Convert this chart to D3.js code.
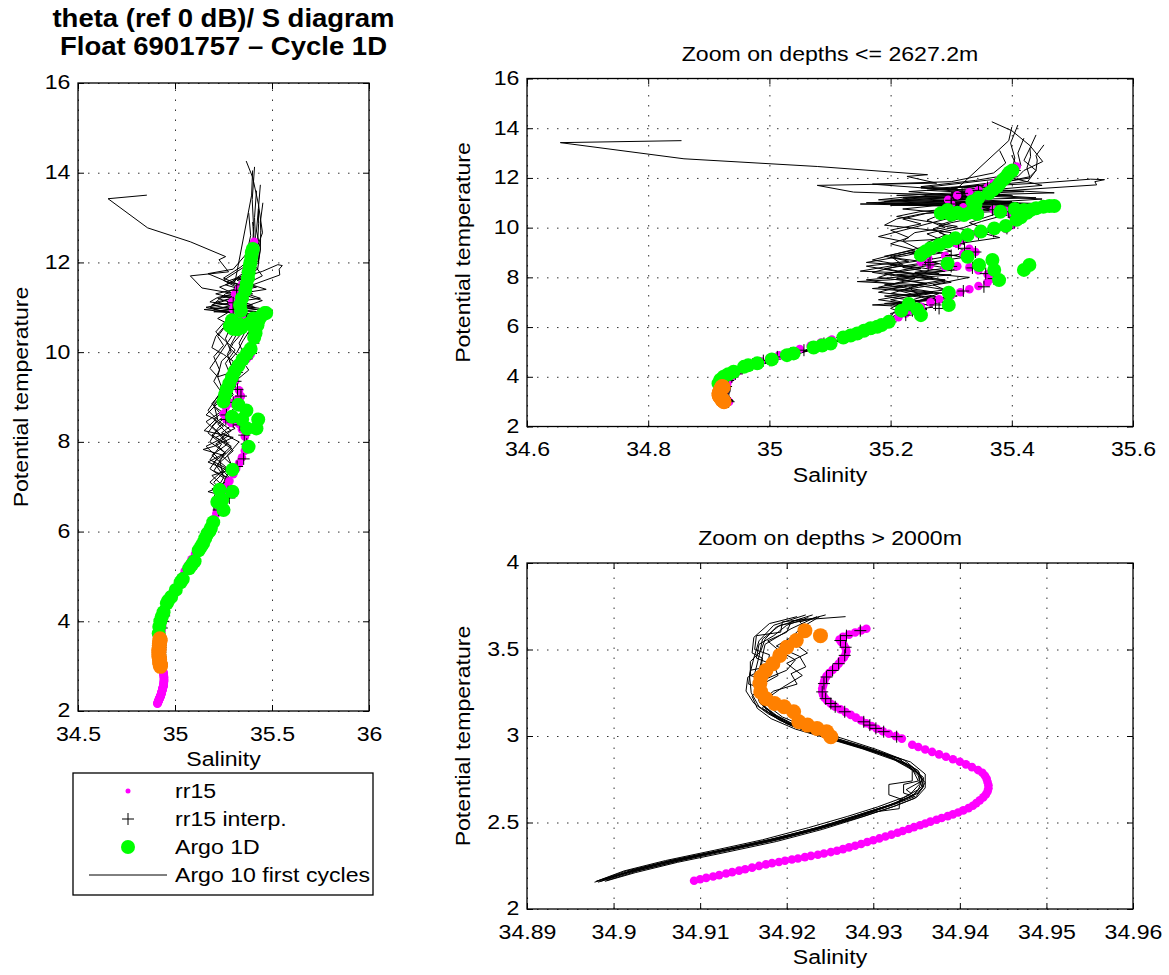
<!DOCTYPE html>
<html>
<head>
<meta charset="utf-8">
<title>theta / S diagram</title>
<script src="https://cdn.jsdelivr.net/npm/d3@7/dist/d3.min.js"></script>
<style>
  body { margin: 0; background: #fff; }
  svg text { font-family: "Liberation Sans", Arial, Helvetica, sans-serif; fill: #000; }
</style>
</head>
<body>
<svg id="chart" width="1169" height="975"></svg>
<script>
// every point is [salinity, potential temperature]

// rr15 reference profile, deep part (bottom up)
var rr15Deep = [
  [34.9093,2.163],[34.9100,2.172],[34.9107,2.180],[34.9115,2.188],[34.9122,2.196],[34.9130,2.205],[34.9137,2.213],
  [34.9145,2.222],[34.9152,2.230],[34.9160,2.239],[34.9168,2.249],[34.9176,2.258],[34.9183,2.265],[34.9191,2.272],
  [34.9198,2.279],[34.9206,2.286],[34.9213,2.292],[34.9221,2.300],[34.9228,2.307],[34.9236,2.314],[34.9243,2.321],
  [34.9251,2.329],[34.9258,2.337],[34.9265,2.346],[34.9272,2.356],[34.9279,2.366],[34.9286,2.376],[34.9293,2.387],
  [34.9300,2.397],[34.9307,2.408],[34.9314,2.419],[34.9321,2.430],[34.9328,2.441],[34.9334,2.451],[34.9341,2.462],
  [34.9347,2.473],[34.9354,2.484],[34.9360,2.494],[34.9366,2.505],[34.9373,2.516],[34.9379,2.526],[34.9386,2.537],
  [34.9392,2.547],[34.9398,2.558],[34.9404,2.570],[34.9410,2.583],[34.9415,2.597],[34.9419,2.612],[34.9423,2.628],
  [34.9427,2.645],[34.9430,2.662],[34.9432,2.680],[34.9433,2.698],[34.9433,2.716],[34.9432,2.734],[34.9431,2.752],
  [34.9429,2.770],[34.9426,2.788],[34.9421,2.803],[34.9414,2.820],[34.9407,2.836],[34.9400,2.851],[34.9392,2.866],
  [34.9384,2.880],[34.9376,2.894],[34.9368,2.908],[34.9360,2.922],[34.9352,2.936],[34.9345,2.949],
  [34.9333,2.985],[34.9326,2.999],[34.9318,3.013],[34.9311,3.027],[34.9304,3.042],[34.9298,3.058],[34.9292,3.074],
  [34.9286,3.090],[34.9280,3.106],[34.9274,3.122],[34.9268,3.138],[34.9262,3.154],[34.9256,3.170],[34.9251,3.186],
  [34.9247,3.203],[34.9244,3.220],[34.9242,3.238],[34.9241,3.256],[34.9241,3.274],[34.9242,3.292],[34.9243,3.310],
  [34.9244,3.328],[34.9246,3.346],[34.9249,3.364],[34.9253,3.382],[34.9257,3.400],[34.9260,3.418],[34.9263,3.436],
  [34.9266,3.454],[34.9268,3.472],[34.9269,3.490],[34.9268,3.508],[34.9266,3.526],[34.9263,3.543],[34.9261,3.558],
  [34.9265,3.573],[34.9272,3.586],[34.9279,3.598],[34.9286,3.610],[34.9292,3.620]
];

// rr15 reference profile, upper part
var rr15Upper = [
  [34.9298,3.64],[34.930,3.70],[34.931,3.80],[34.934,3.90],[34.938,4.00],[34.944,4.12],[34.951,4.25],[34.960,4.38],
  [34.972,4.50],[34.986,4.62],[35.000,4.74],[35.016,4.86],[35.033,4.98],[35.050,5.12],[35.068,5.25],[35.085,5.38],
  [35.103,5.50],[35.120,5.63],[35.138,5.76],[35.155,5.89],[35.171,6.02],[35.186,6.15],[35.200,6.28],[35.213,6.40],
  [35.225,6.55],[35.236,6.68],[35.250,6.82],[35.266,7.00],[35.280,7.12],[35.300,7.28],[35.315,7.40],[35.330,7.52],
  [35.345,7.65],[35.360,7.80],[35.370,7.95],[35.360,8.12],[35.345,8.28],[35.330,8.40],[35.310,8.45],[35.290,8.42],
  [35.265,8.50],[35.250,8.62],[35.262,8.78],[35.290,8.86],[35.320,8.95],[35.340,9.02],[35.330,9.15],[35.310,9.35],
  [35.320,9.55],[35.345,9.75],[35.370,9.85],[35.390,9.95],[35.400,10.10],[35.405,10.30],[35.400,10.50],[35.390,10.68],
  [35.370,10.72],[35.345,10.75],[35.320,10.82],[35.300,10.95],[35.295,11.12],[35.310,11.30],[35.330,11.42],
  [35.345,11.50],[35.360,11.62],[35.370,11.78],[35.378,11.92],[35.388,12.05],[35.396,12.20],[35.403,12.35],[35.408,12.46]
];

// rr15 interpolated on the Argo levels
var rr15InterpDeep = [
  [34.9285,3.609],[34.9269,3.580],[34.9262,3.552],[34.9268,3.513],[34.9267,3.466],[34.9260,3.418],[34.9253,3.379],
  [34.9246,3.341],[34.9243,3.303],[34.9241,3.255],[34.9245,3.216],[34.9251,3.188],[34.9256,3.169],[34.9267,3.140],
  [34.9289,3.082],[34.9296,3.063],[34.9303,3.044],[34.9312,3.025],[34.9327,2.996]
];
var rr15InterpUpper = [
  [35.405,12.30],[35.397,12.19],[35.389,12.00],[35.374,11.78],[35.360,11.62],[35.345,11.50],[35.318,11.38],
  [35.300,11.10],[35.300,10.95],[35.368,10.72],[35.395,10.64],[35.403,10.42],[35.404,10.20],[35.392,9.97],
  [35.370,9.85],[35.345,9.75],[35.320,9.55],[35.312,9.35],[35.322,9.17],[35.340,9.02],[35.300,8.88],[35.265,8.60],
  [35.262,8.50],[35.300,8.44],[35.335,8.38],[35.357,8.15],[35.370,7.95],[35.354,7.62],[35.320,7.45],[35.274,6.89],
  [35.280,6.75],[35.236,6.66],[35.225,6.48],[35.200,6.21],[35.186,6.08],[35.170,5.95],[35.145,5.74],[35.120,5.58],
  [35.090,5.34],[35.057,5.07],[35.035,4.94],[35.013,4.80],[34.990,4.65],[34.972,4.50],[34.955,4.33],[34.944,4.12],
  [34.938,4.00],[34.932,3.85]
];

// Argo cycle 1D
var argo1D = [
  [35.401,12.30],[35.396,12.22],[35.393,12.12],[35.389,12.00],[35.385,11.92],[35.380,11.78],[35.376,11.65],
  [35.369,11.52],[35.362,11.38],[35.345,11.20],[35.335,11.05],[35.340,10.92],
  [35.283,10.58],[35.294,10.71],[35.300,10.52],[35.310,10.60],[35.321,10.51],[35.332,10.62],[35.343,10.55],
  [35.381,10.64],
  [35.405,10.75],[35.412,10.51],[35.408,10.32],[35.415,10.42],[35.420,10.71],[35.425,10.60],[35.431,10.71],
  [35.440,10.78],[35.452,10.84],[35.462,10.87],[35.470,10.87],
  [35.390,10.07],[35.371,9.97],[35.349,9.84],[35.327,9.70],[35.307,9.57],[35.294,9.44],[35.280,9.30],
  [35.266,9.17],[35.258,9.05],[35.250,8.90],
  [35.327,8.83],[35.294,8.56],[35.346,8.50],[35.368,8.70],[35.371,8.30],[35.420,8.30],[35.429,8.50],[35.379,7.89],
  [35.296,7.38],[35.296,6.89],[35.230,6.93],[35.244,6.71],[35.218,6.66],[35.250,6.48],
  [35.197,6.21],[35.185,6.08],[35.178,6.01],[35.167,5.95],[35.156,5.85],[35.145,5.74],[35.134,5.66],[35.122,5.58],
  [35.101,5.34],[35.087,5.26],[35.073,5.18],[35.040,4.94],[35.029,4.87],[35.004,4.70],[34.980,4.54],[34.965,4.46],
  [34.958,4.40],[34.941,4.20],[34.932,4.10],[34.9245,4.00],[34.919,3.88],[34.916,3.73]
];
// Argo cycle 1D, levels deeper than 2000 m
var argo1DDeep = [
  [34.9221,3.609],[34.9239,3.580],[34.9211,3.552],[34.9200,3.513],[34.9192,3.466],[34.9184,3.418],[34.9176,3.379],
  [34.9170,3.341],[34.9169,3.303],[34.9170,3.255],[34.9176,3.216],[34.9186,3.188],[34.9197,3.169],[34.9208,3.140],
  [34.9214,3.082],[34.9224,3.063],[34.9235,3.044],[34.9246,3.025],[34.9251,2.996]
];

// Argo 10 first cycles
var cycle1 = [
  [34.855,13.50],[34.655,13.42],[34.859,12.77],[35.079,12.46],[35.261,12.13],[35.227,12.06],[35.276,11.79],
  [35.079,11.70],[35.139,11.43],[35.310,11.30],[35.220,11.22],[35.180,11.12],[35.300,11.05],[35.200,10.95],
  [35.350,10.86],[35.250,10.55],[35.210,10.35],[35.190,10.10],[35.250,9.95],[35.300,9.80],[35.290,9.40],
  [35.260,9.10],[35.200,8.85],[35.220,8.50],[35.170,8.20],[35.240,7.95],[35.180,7.60],[35.270,7.40],[35.200,7.10],
  [35.250,6.85],[35.210,6.60],[35.215,6.40],
  [35.198,6.20],[35.176,6.00],[35.150,5.80],[35.128,5.60],[35.105,5.40],[35.079,5.20],[35.052,5.00],[35.025,4.80],
  [35.002,4.65],[34.983,4.50],[34.964,4.35],[34.950,4.20],[34.934,4.00],[34.925,3.80],
  [34.9222,3.70],[34.9185,3.64],[34.9168,3.55],[34.9162,3.45],[34.9157,3.35],[34.9159,3.25],[34.9168,3.17],
  [34.9192,3.09],[34.9226,3.02],[34.9262,2.97],[34.9302,2.91],[34.9338,2.84],[34.9352,2.77],[34.9356,2.71],
  [34.9344,2.65],[34.9318,2.60],[34.9282,2.54],[34.9238,2.47],[34.9185,2.40],[34.9130,2.34],[34.9070,2.28],
  [34.9020,2.22],[34.8985,2.16]
];
var cycle2 = [
  [35.410,14.13],[35.398,13.40],[35.405,12.80],[35.400,12.30],[35.380,11.85],[35.300,11.60],[35.450,11.80],
  [35.530,11.95],[35.553,11.93],[35.537,11.85],[35.540,11.72],[35.400,11.50],[35.300,11.35],[35.450,11.15],
  [35.350,11.00],[35.480,10.92],[35.400,10.80],[35.440,10.55],[35.420,10.30],[35.400,10.00],[35.360,9.80],
  [35.300,9.55],[35.270,9.25],[35.240,8.95],[35.260,8.60],[35.190,8.35],[35.250,8.10],[35.300,7.80],[35.220,7.50],
  [35.280,7.20],[35.220,6.95],[35.240,6.70],[35.210,6.50],
  [35.203,6.20],[35.181,6.00],[35.156,5.80],[35.133,5.60],[35.110,5.40],[35.085,5.20],[35.058,5.00],[35.031,4.80],
  [35.008,4.65],[34.988,4.50],[34.969,4.35],[34.955,4.20],[34.938,4.00],[34.927,3.80],
  [34.9235,3.69],[34.9205,3.62],[34.9175,3.53],[34.9171,3.44],[34.9166,3.33],[34.9168,3.24],[34.9176,3.16],
  [34.9198,3.08],[34.9233,3.01],[34.9268,2.96],[34.9307,2.90],[34.9342,2.83],[34.9358,2.76],[34.9357,2.70],
  [34.9348,2.64],[34.9322,2.59],[34.9286,2.53],[34.9241,2.46],[34.9188,2.39],[34.9132,2.33],[34.9074,2.27],
  [34.9025,2.21],[34.8990,2.16]
];
var cycle3 = [
  [35.367,14.26],[35.400,13.90],[35.430,13.30],[35.451,12.66],[35.420,12.30],[35.410,12.05],[35.250,11.60],
  [35.380,11.30],[35.200,11.10],[35.420,10.95],[35.300,10.90],[35.460,10.75],[35.350,10.62],[35.300,10.40],
  [35.180,9.64],[35.220,9.45],[35.330,9.60],[35.280,9.20],[35.230,8.90],[35.160,8.60],[35.210,8.50],[35.150,8.25],
  [35.300,8.10],[35.200,7.90],[35.145,7.83],[35.250,7.70],[35.200,7.35],[35.300,7.15],[35.190,6.95],[35.260,6.75],
  [35.200,6.55],
  [35.205,6.25],[35.180,6.02],[35.154,5.79],[35.131,5.58],[35.107,5.39],[35.082,5.19],[35.054,4.99],[35.028,4.79],
  [35.005,4.64],[34.985,4.49],[34.966,4.34],[34.951,4.19],[34.936,4.01],[34.9265,3.81],
  [34.9232,3.68],[34.9195,3.66],[34.9193,3.60],[34.9165,3.58],[34.9163,3.50],[34.9180,3.47],[34.9178,3.40],
  [34.9158,3.38],[34.9156,3.30],[34.9170,3.28],[34.9168,3.20],[34.9185,3.12],[34.9215,3.05],[34.9255,2.99],
  [34.9295,2.93],[34.9330,2.87],[34.9345,2.80],[34.9345,2.74],[34.9318,2.72],[34.9318,2.66],[34.9335,2.63],
  [34.9310,2.58],[34.9280,2.53],[34.9235,2.46],[34.9180,2.39],[34.9120,2.33],[34.9068,2.27],[34.9018,2.21],
  [34.8982,2.155]
];
var cycle4 = [
  [35.440,13.73],[35.430,13.20],[35.431,12.86],[35.425,12.40],[35.430,12.00],[35.350,11.70],[35.270,11.58],
  [35.400,11.30],[35.220,11.20],[35.360,11.00],[35.200,10.90],[35.450,10.85],[35.300,10.70],[35.260,10.30],
  [35.290,10.00],[35.240,9.80],[35.220,9.45],[35.250,9.10],[35.200,8.80],[35.280,8.55],[35.220,8.30],[35.180,8.00],
  [35.260,7.75],[35.170,7.55],[35.280,7.35],[35.240,7.00],[35.170,6.89],[35.250,6.80],[35.220,6.55],
  [35.200,6.18],[35.177,5.98],[35.152,5.78],[35.130,5.59],[35.106,5.40],[35.081,5.21],[35.055,5.02],[35.027,4.81],
  [35.004,4.66],[34.984,4.51],[34.965,4.36],[34.952,4.22],[34.937,4.02],[34.927,3.82],
  [34.9245,3.70],[34.9215,3.66],[34.9228,3.60],[34.9205,3.55],[34.9224,3.48],[34.9200,3.42],[34.9218,3.35],
  [34.9195,3.28],[34.9178,3.22],[34.9172,3.16],[34.9190,3.10],[34.9222,3.03],[34.9260,2.975],[34.9305,2.91],
  [34.9343,2.85],[34.9360,2.78],[34.9360,2.70],[34.9350,2.645],[34.9325,2.595],[34.9288,2.535],[34.9243,2.47],
  [34.9190,2.40],[34.9135,2.34],[34.9078,2.28],[34.9028,2.22],[34.8992,2.165]
];
var cycle5 = [
  [35.453,13.33],[35.440,12.90],[35.442,12.72],[35.440,12.30],[35.426,11.85],[35.320,11.60],[35.470,11.40],
  [35.250,11.25],[35.400,11.05],[35.150,10.95],[35.350,10.85],[35.380,10.60],[35.330,10.20],[35.360,9.90],
  [35.320,9.70],[35.300,9.30],[35.330,9.00],[35.260,8.70],[35.300,8.40],[35.240,8.20],[35.330,8.00],[35.270,7.70],
  [35.300,7.40],[35.190,7.25],[35.240,7.05],[35.270,6.80],[35.205,6.60],
  [35.196,6.21],[35.174,6.01],[35.149,5.81],[35.127,5.61],[35.103,5.41],[35.078,5.21],[35.051,5.01],[35.024,4.81],
  [35.000,4.66],[34.981,4.51],[34.963,4.36],[34.948,4.21],[34.933,4.01],[34.924,3.81],
  [34.9212,3.69],[34.9180,3.65],[34.9162,3.57],[34.9160,3.48],[34.9172,3.45],[34.9170,3.38],[34.9155,3.34],
  [34.9153,3.26],[34.9162,3.19],[34.9178,3.13],[34.9205,3.06],[34.9240,3.00],[34.9280,2.94],[34.9318,2.88],
  [34.9345,2.81],[34.9352,2.74],[34.9335,2.72],[34.9335,2.67],[34.9348,2.65],[34.9322,2.60],[34.9283,2.54],
  [34.9236,2.47],[34.9180,2.40],[34.9125,2.34],[34.9065,2.28],[34.9015,2.22],[34.8980,2.16]
];
var cycle6 = [
  [35.400,14.05],[35.395,13.50],[35.310,11.58],[35.230,11.45],[35.330,11.25],[35.190,11.05],[35.300,10.95],
  [35.220,10.75],[35.330,10.50],[35.280,10.10],[35.340,9.85],[35.380,9.60],[35.310,9.35],[35.270,9.05],
  [35.320,8.80],[35.250,8.55],[35.310,8.30],[35.210,8.10],[35.290,7.85],[35.230,7.60],[35.250,7.20],[35.210,6.90],
  [35.230,6.60],
  [35.202,6.22],[35.179,6.01],[35.155,5.81],[35.132,5.61],[35.109,5.41],[35.084,5.21],[35.057,5.01],[35.030,4.81],
  [35.007,4.66],[34.987,4.51],[34.968,4.36],[34.954,4.21],[34.937,4.01],[34.926,3.80],
  [34.9268,3.69],[34.9228,3.675],[34.9192,3.64],[34.9172,3.56],[34.9168,3.46],[34.9163,3.36],[34.9165,3.27],
  [34.9174,3.19],[34.9195,3.11],[34.9228,3.04],[34.9265,2.985],[34.9305,2.92],[34.9336,2.86],[34.9353,2.79],
  [34.9353,2.72],[34.9342,2.66],[34.9330,2.63],[34.9330,2.58],[34.9300,2.56],[34.9262,2.50],[34.9218,2.44],
  [34.9166,2.38],[34.9110,2.32],[34.9055,2.26],[34.9008,2.20],[34.8978,2.155]
];
var cycle7 = [
  [35.380,13.10],[35.390,12.60],[35.370,12.20],[35.300,11.85],[35.170,11.75],[35.280,11.55],[35.420,11.45],
  [35.260,11.30],[35.180,11.00],[35.330,10.92],[35.430,10.90],[35.370,10.70],[35.260,10.58],[35.220,10.35],
  [35.250,10.15],[35.200,9.90],[35.230,9.60],[35.200,9.35],[35.240,9.10],[35.190,8.85],[35.230,8.65],[35.160,8.45],
  [35.220,8.20],[35.270,7.95],[35.190,7.70],[35.260,7.45],[35.310,7.25],[35.220,7.00],[35.200,6.75],[35.225,6.55],
  [35.199,6.19],[35.177,5.99],[35.151,5.79],[35.129,5.59],[35.106,5.39],[35.080,5.19],[35.053,4.99],[35.026,4.79],
  [35.003,4.64],[34.984,4.49],[34.965,4.34],[34.951,4.19],[34.935,3.99],[34.926,3.79],
  [34.9238,3.69],[34.9218,3.63],[34.9205,3.57],[34.9188,3.52],[34.9215,3.46],[34.9222,3.40],[34.9205,3.36],
  [34.9212,3.30],[34.9185,3.26],[34.9170,3.20],[34.9178,3.14],[34.9200,3.07],[34.9235,3.01],[34.9272,2.955],
  [34.9312,2.89],[34.9340,2.83],[34.9355,2.77],[34.9358,2.705],[34.9346,2.655],[34.9318,2.60],[34.9280,2.54],
  [34.9235,2.47],[34.9183,2.405],[34.9128,2.345],[34.9070,2.285],[34.9022,2.225],[34.8988,2.17]
];
var cycle8 = [
  [35.420,13.60],[35.410,13.00],[35.415,12.50],[35.400,12.00],[35.450,11.70],[35.380,11.55],[35.300,11.40],
  [35.440,11.20],[35.270,11.10],[35.470,10.95],[35.320,10.80],[35.250,10.65],[35.210,10.45],[35.260,10.25],
  [35.310,10.05],[35.260,9.75],[35.290,9.45],[35.250,9.20],[35.210,8.95],[35.170,8.70],[35.230,8.45],[35.290,8.25],
  [35.230,8.05],[35.160,7.90],[35.220,7.65],[35.180,7.40],[35.250,7.20],[35.290,7.00],[35.220,6.80],[35.210,6.55],
  [35.204,6.23],[35.182,6.02],[35.157,5.82],[35.134,5.62],[35.111,5.42],[35.086,5.22],[35.059,5.02],[35.032,4.82],
  [35.009,4.67],[34.989,4.52],[34.970,4.37],[34.956,4.22],[34.939,4.02],[34.928,3.81],
  [34.9218,3.68],[34.9188,3.63],[34.9175,3.56],[34.9170,3.49],[34.9158,3.43],[34.9158,3.35],[34.9170,3.33],
  [34.9168,3.25],[34.9172,3.18],[34.9188,3.12],[34.9215,3.05],[34.9250,2.995],[34.9290,2.935],[34.9328,2.87],
  [34.9352,2.80],[34.9356,2.74],[34.9338,2.69],[34.9346,2.66],[34.9325,2.61],[34.9290,2.55],[34.9245,2.48],
  [34.9193,2.41],[34.9137,2.35],[34.9078,2.29],[34.9028,2.23],[34.8987,2.17]
];
var cycle9 = [
  [35.400,12.90],[35.410,12.40],[35.390,12.10],[35.340,11.90],[35.250,11.65],[35.360,11.45],[35.210,11.30],
  [35.350,11.15],[35.160,11.00],[35.280,10.88],[35.380,10.78],[35.290,10.60],[35.340,10.40],[35.300,10.20],
  [35.270,9.95],[35.290,9.70],[35.260,9.40],[35.290,9.15],[35.230,9.00],[35.270,8.75],[35.200,8.50],[35.250,8.35],
  [35.190,8.15],[35.290,7.90],[35.240,7.70],[35.290,7.50],[35.230,7.30],[35.180,7.10],[35.240,6.90],[35.260,6.70],
  [35.215,6.50],
  [35.197,6.20],[35.175,6.00],[35.150,5.80],[35.127,5.60],[35.104,5.40],[35.079,5.20],[35.052,5.00],[35.026,4.80],
  [35.003,4.65],[34.983,4.50],[34.964,4.35],[34.950,4.20],[34.934,4.00],[34.925,3.80],
  [34.9230,3.70],[34.9205,3.66],[34.9200,3.60],[34.9178,3.55],[34.9192,3.49],[34.9210,3.44],[34.9200,3.38],
  [34.9176,3.33],[34.9165,3.26],[34.9169,3.19],[34.9183,3.13],[34.9208,3.06],[34.9243,3.00],[34.9280,2.945],
  [34.9318,2.885],[34.9345,2.82],[34.9357,2.755],[34.9352,2.69],[34.9335,2.645],[34.9305,2.59],[34.9270,2.535],
  [34.9225,2.47],[34.9172,2.40],[34.9117,2.34],[34.9060,2.28],[34.9012,2.22],[34.8980,2.16]
];
var cycle10 = [
  [35.430,13.20],[35.420,12.70],[35.440,12.30],[35.430,12.05],[35.370,11.75],[35.260,11.50],[35.380,11.35],
  [35.300,11.15],[35.410,11.00],[35.230,10.92],[35.370,10.82],[35.430,10.65],[35.380,10.45],[35.350,10.25],
  [35.320,10.00],[35.280,9.80],[35.310,9.55],[35.270,9.30],[35.300,9.05],[35.240,8.80],[35.270,8.60],[35.220,8.40],
  [35.280,8.15],[35.210,7.95],[35.260,7.75],[35.200,7.55],[35.240,7.30],[35.280,7.10],[35.210,6.95],[35.230,6.70],
  [35.205,6.45],
  [35.201,6.21],[35.179,6.01],[35.154,5.81],[35.131,5.61],[35.108,5.41],[35.083,5.21],[35.056,5.01],[35.029,4.81],
  [35.006,4.66],[34.986,4.51],[34.967,4.36],[34.953,4.21],[34.937,4.01],[34.927,3.81],
  [34.9225,3.685],[34.9200,3.64],[34.9185,3.58],[34.9168,3.53],[34.9165,3.45],[34.9185,3.41],[34.9190,3.35],
  [34.9172,3.30],[34.9160,3.23],[34.9166,3.16],[34.9182,3.10],[34.9210,3.04],[34.9248,2.985],[34.9288,2.925],
  [34.9325,2.86],[34.9350,2.79],[34.9360,2.73],[34.9352,2.67],[34.9328,2.615],[34.9293,2.56],[34.9252,2.495],
  [34.9202,2.425],[34.9146,2.36],[34.9088,2.30],[34.9036,2.24],[34.8995,2.18]
];
var cycles = [cycle1, cycle2, cycle3, cycle4, cycle5, cycle6, cycle7, cycle8, cycle9, cycle10];

// ticks
var thetaTicks = [2, 4, 6, 8, 10, 12, 14, 16];
var thetaLabels = ["2", "4", "6", "8", "10", "12", "14", "16"];
var fullSalTicks = [34.5, 35, 35.5, 36];
var fullSalLabels = ["34.5", "35", "35.5", "36"];
var zoomSalTicks = [34.6, 34.8, 35, 35.2, 35.4, 35.6];
var zoomSalLabels = ["34.6", "34.8", "35", "35.2", "35.4", "35.6"];
var deepSalTicks = [34.89, 34.9, 34.91, 34.92, 34.93, 34.94, 34.95, 34.96];
var deepSalLabels = ["34.89", "34.9", "34.91", "34.92", "34.93", "34.94", "34.95", "34.96"];
var deepThetaTicks = [2, 2.5, 3, 3.5, 4];
var deepThetaLabels = ["2", "2.5", "3", "3.5", "4"];

var legendNames = ["rr15", "rr15 interp.", "Argo 1D", "Argo 10 first cycles"];

var shallowThetaMin = 2.98; // depth <= 2627.2 m
var deepThetaMax = 3.70;    // depth > 2000 m

var MAGENTA = "#ff00ff", GREEN = "#00ff00", ORANGE = "#ff8000";
var SX = 1.1; // glyphs of the original figure are a bit wide

var svg = d3.select("#chart");
svg.append("rect").attr("width", 1169).attr("height", 975).attr("fill", "#fff");
var defs = svg.append("defs");

function stretchedText(parent, x, y, str, size, rotate, bold) {
  var t = "translate(" + x + "," + y + ")" + (rotate ? " rotate(-90)" : "") + " scale(" + SX + ",1)";
  return parent.append("text")
    .attr("transform", t)
    .attr("text-anchor", "middle")
    .attr("font-size", size)
    .attr("font-weight", bold ? "bold" : "normal")
    .text(str);
}

function drawPanel(p) {
  var x = d3.scaleLinear().domain(p.xDomain).range([0, p.w]);
  var y = d3.scaleLinear().domain(p.yDomain).range([p.h, 0]);
  var g = svg.append("g").attr("transform", "translate(" + p.left + "," + p.top + ")");

  defs.append("clipPath").attr("id", "clip-" + p.id)
    .append("rect").attr("width", p.w).attr("height", p.h);

  // dotted grid
  var gx = g.append("g").attr("transform", "translate(0," + p.h + ")")
    .call(d3.axisBottom(x).tickValues(p.xTicks).tickSize(-p.h).tickFormat(""));
  var gy = g.append("g")
    .call(d3.axisLeft(y).tickValues(p.yTicks).tickSize(-p.w).tickFormat(""));
  [gx, gy].forEach(function(s) {
    s.select(".domain").remove();
    s.selectAll("line").attr("stroke", "#333").attr("stroke-width", 1).attr("stroke-dasharray", "1.5,8.5");
  });

  var plot = g.append("g").attr("clip-path", "url(#clip-" + p.id + ")");
  var line = d3.line().x(function(d) { return x(d[0]); }).y(function(d) { return y(d[1]); });

  plot.selectAll(".cyc").data(p.cycles).enter().append("path")
    .attr("d", line).attr("fill", "none").attr("stroke", "#000").attr("stroke-width", 1);

  plot.selectAll(".rr").data(p.rr15).enter().append("circle")
    .attr("cx", function(d) { return x(d[0]); }).attr("cy", function(d) { return y(d[1]); })
    .attr("r", 4.3).attr("fill", MAGENTA);

  plot.selectAll(".ip").data(p.interp).enter().append("path")
    .attr("d", "M-6,0H6M0,-6V6")
    .attr("transform", function(d) { return "translate(" + x(d[0]) + "," + y(d[1]) + ")"; })
    .attr("stroke", "#000").attr("stroke-width", 1);

  plot.selectAll(".ag").data(p.argo).enter().append("circle")
    .attr("cx", function(d) { return x(d[0]); }).attr("cy", function(d) { return y(d[1]); })
    .attr("r", 7).attr("fill", GREEN);

  plot.selectAll(".ad").data(p.argoDeep).enter().append("circle")
    .attr("cx", function(d) { return x(d[0]); }).attr("cy", function(d) { return y(d[1]); })
    .attr("r", 7.5).attr("fill", ORANGE);

  g.append("rect").attr("width", p.w).attr("height", p.h)
    .attr("fill", "none").attr("stroke", "#000").attr("stroke-width", 1.3);

  var axes = [
    { gen: d3.axisBottom(x).tickValues(p.xTicks).tickFormat(function(d, i) { return p.xLabels[i]; }).tickPadding(15),
      t: "translate(0," + p.h + ")", dy: "0.71em" },
    { gen: d3.axisLeft(y).tickValues(p.yTicks).tickFormat(function(d, i) { return p.yLabels[i]; }).tickPadding(7),
      t: null, dy: "0.28em" },
    { gen: d3.axisTop(x).tickValues(p.xTicks).tickFormat(""), t: null },
    { gen: d3.axisRight(y).tickValues(p.yTicks).tickFormat(""), t: "translate(" + p.w + ",0)" }
  ];
  axes.forEach(function(a) {
    var s = g.append("g");
    if (a.t) s.attr("transform", a.t);
    s.call(a.gen.tickSizeInner(-6).tickSizeOuter(0));
    s.attr("font-size", 21).attr("font-family", null);
    s.select(".domain").remove();
    s.selectAll(".tick line").attr("stroke", "#000");
    s.selectAll(".tick text").attr("transform", "scale(" + SX + ",1)");
    if (a.dy) s.selectAll(".tick text").attr("dy", a.dy);
  });

  // labels
  stretchedText(g, p.w / 2, p.h + 55, "Salinity", 21);
  stretchedText(g, p.yLabelX, p.h / 2, "Potential temperature", 21, true);
  if (p.title) stretchedText(g, p.w / 2, -18, p.title, 21);
}

function above(limit) { return function(d) { return d[1] >= limit; }; }
function below(limit) { return function(d) { return d[1] <= limit; }; }

// full profile
drawPanel({
  id: "full", left: 78, top: 83, w: 291, h: 628,
  xDomain: [34.5, 36], yDomain: [2, 16],
  xTicks: fullSalTicks, xLabels: fullSalLabels, yTicks: thetaTicks, yLabels: thetaLabels,
  yLabelX: -50,
  cycles: cycles,
  rr15: rr15Deep.concat(rr15Upper),
  interp: rr15InterpDeep.concat(rr15InterpUpper),
  argo: argo1D, argoDeep: argo1DDeep
});

// zoom on depths <= 2627.2 m
drawPanel({
  id: "upper", left: 527, top: 78.5, w: 606, h: 348,
  xDomain: [34.6, 35.6], yDomain: [2, 16],
  xTicks: zoomSalTicks, xLabels: zoomSalLabels, yTicks: thetaTicks, yLabels: thetaLabels,
  yLabelX: -57, title: "Zoom on depths <= 2627.2m",
  cycles: cycles.map(function(c) { return c.filter(above(shallowThetaMin)); }),
  rr15: rr15Deep.filter(above(shallowThetaMin)).concat(rr15Upper),
  interp: rr15InterpDeep.concat(rr15InterpUpper),
  argo: argo1D, argoDeep: argo1DDeep
});

// zoom on depths > 2000 m
drawPanel({
  id: "deep", left: 527, top: 563, w: 606, h: 346,
  xDomain: [34.89, 34.96], yDomain: [2, 4],
  xTicks: deepSalTicks, xLabels: deepSalLabels, yTicks: deepThetaTicks, yLabels: deepThetaLabels,
  yLabelX: -57, title: "Zoom on depths > 2000m",
  cycles: cycles.map(function(c) { return c.filter(below(deepThetaMax)); }),
  rr15: rr15Deep,
  interp: rr15InterpDeep,
  argo: [], argoDeep: argo1DDeep
});

// main title
stretchedText(svg, 223.5, 27, "theta (ref 0 dB)/ S diagram", 25, false, true);
stretchedText(svg, 223.5, 55, "Float 6901757 \u2013 Cycle 1D", 25, false, true);

// legend
var lg = svg.append("g");
lg.append("rect").attr("x", 73).attr("y", 773).attr("width", 300).attr("height", 122)
  .attr("fill", "#fff").attr("stroke", "#000").attr("stroke-width", 1.3);
var rowY = [791, 819, 847, 875];
lg.append("circle").attr("cx", 128).attr("cy", rowY[0]).attr("r", 2.5).attr("fill", MAGENTA);
lg.append("path").attr("d", "M122," + rowY[1] + "H134M128," + (rowY[1] - 6) + "V" + (rowY[1] + 6))
  .attr("stroke", "#000").attr("stroke-width", 1);
lg.append("circle").attr("cx", 128).attr("cy", rowY[2]).attr("r", 7).attr("fill", GREEN);
lg.append("line").attr("x1", 89).attr("x2", 167).attr("y1", rowY[3]).attr("y2", rowY[3])
  .attr("stroke", "#000").attr("stroke-width", 1);
legendNames.forEach(function(n, i) {
  lg.append("text")
    .attr("transform", "translate(175," + rowY[i] + ") scale(" + SX + ",1)")
    .attr("dy", "0.35em").attr("font-size", 21).text(n);
});
</script>
</body>
</html>
